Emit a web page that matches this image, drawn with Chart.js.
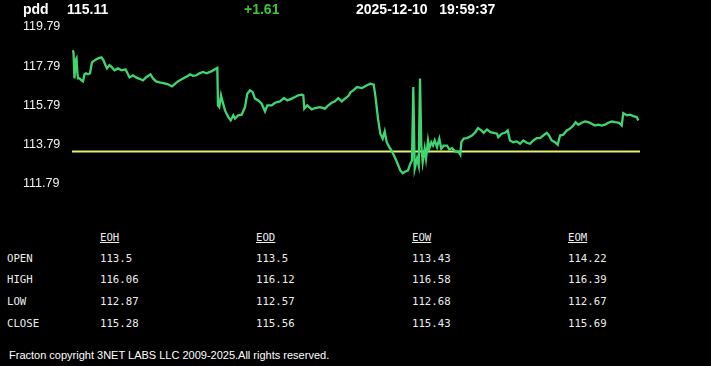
<!DOCTYPE html>
<html>
<head>
<meta charset="utf-8">
<script src="https://cdn.jsdelivr.net/npm/chart.js@4.4.1/dist/chart.umd.min.js"></script>
<style>
    html, body { margin: 0; padding: 0; background: #000; width: 711px; height: 366px; overflow: hidden; }
    #wrap { position: relative; width: 711px; height: 366px; }
    #priceChart { position: absolute; left: 0; top: 0; }
    .hdr { position: absolute; top: 0; font: bold 14px "Liberation Sans", Arial, sans-serif; color: #fff; line-height: 18px; white-space: pre; }
    .cell { position: absolute; font: 10.7px "DejaVu Sans Mono", monospace; color: #ececec; line-height: 14px; white-space: pre; }
    .cell.head { text-decoration: underline; }
    #footer { position: absolute; left: 9px; top: 348px; font: 11px "Liberation Sans", Arial, sans-serif; color: #fff; line-height: 14px; white-space: pre; }
</style>
</head>
<body>
<div id="wrap">
    <canvas id="priceChart" width="711" height="200"></canvas>
    <div class="hdr" id="sym" style="left:23px"></div>
    <div class="hdr" id="last" style="left:67px"></div>
    <div class="hdr" id="chg" style="left:244px;color:#3cc43c"></div>
    <div class="hdr" id="stamp" style="left:356px"></div>
    <div id="table"></div>
    <div id="footer">Fracton copyright 3NET LABS LLC 2009-2025.All rights reserved.</div>
</div>
<script>
// Quote header
const symbol = 'pdd';
const lastPrice = '115.11';
const change = '+1.61';
const stampText = '2025-12-10   19:59:37';

// Intraday trace (t = sample index across the session)
const t = [0.5, 1.5, 2.5, 3.5, 4.5, 5.5, 6, 7.5, 9.5, 11, 12.5, 14, 16, 18, 20, 22.5, 26, 29.5, 31.5, 33.5,
    35, 37.5, 40, 42.5, 46, 49.5, 53.5, 55.5, 57.5, 61, 64, 67.5, 71, 74, 78.5, 81, 84, 87.5, 92.5, 96,
    100, 103.5, 106, 111, 116, 118, 121, 124.5, 127.5, 131, 134.5, 138, 141, 145.3, 146, 147.3, 149, 150.7, 153, 156.3,
    158.7, 161.3, 163, 166.3, 169.7, 173, 175.3, 178, 180.7, 183, 186.3, 189.7, 193, 195.3, 199.7, 203, 208, 212, 215.3, 219.7,
    223, 226.3, 229.7, 231.3, 232.3, 235.3, 239.7, 243, 248, 253, 256.3, 259.7, 263, 266.3, 269.7, 273, 276.3, 278.7, 281.3, 285,
    290, 295, 298.3, 301.7, 303.3, 306, 308.3, 310.7, 312.7, 314.7, 317.3, 320, 322.7, 325, 328.3, 330.7, 333.3, 336, 338.3, 340,
    341.3, 342.7, 345, 346.7, 348, 349.3, 350.7, 352.7, 354, 356, 357.3, 359.3, 361, 362.7, 365, 367.3, 369.3, 371.7, 375, 377.3,
    380, 383.3, 386.7, 388.3, 389.3, 391.7, 395, 400, 403.3, 406, 409.3, 411.7, 415, 418.3, 421.7, 425, 426.3, 429.7, 433, 435.7,
    438, 441.3, 444.7, 448, 451.3, 454.7, 458, 461.3, 464.7, 468, 471.3, 474.7, 477, 479.7, 483, 485.7, 488, 491.3, 494.7, 498,
    501.3, 503.7, 506.3, 509.7, 513, 516.3, 519.7, 523, 526.3, 529.7, 533, 536.3, 539.7, 543, 547, 549.7, 551.3, 554.7, 558, 561.3,
    564.7, 566.3];
const price = [118.60, 118.50, 117.17, 118.09, 118.19, 117.38, 117.17, 117.17, 117.07, 117.02, 117.38, 117.43, 117.38, 117.43, 117.99, 118.09, 118.19, 118.24, 118.09, 117.84,
    117.68, 117.84, 117.73, 117.58, 117.68, 117.58, 117.63, 117.43, 117.22, 117.33, 117.22, 117.15, 117.07, 117.22, 117.38, 117.17, 117.02, 116.97, 116.92, 116.87,
    116.76, 116.92, 117.02, 117.17, 117.30, 117.38, 117.30, 117.33, 117.43, 117.50, 117.43, 117.50, 117.58, 117.70, 115.80, 115.71, 116.31, 115.96, 115.54, 115.20,
    115.03, 115.29, 115.12, 115.29, 115.32, 115.71, 116.39, 116.56, 116.47, 116.14, 116.05, 115.88, 115.49, 115.80, 115.80, 115.93, 116.00, 116.17, 116.05, 116.14,
    116.22, 116.31, 116.34, 116.31, 115.63, 115.80, 115.59, 115.66, 115.71, 115.63, 115.80, 115.93, 116.00, 116.17, 116.00, 116.14, 116.27, 116.47, 116.56, 116.73,
    116.68, 116.82, 116.90, 116.85, 116.31, 115.12, 114.35, 114.10, 114.47, 113.92, 113.67, 113.45, 113.16, 112.90, 112.48, 112.34, 112.43, 112.48, 112.82, 112.99,
    116.73, 112.57, 113.08, 112.73, 117.16, 113.75, 112.90, 113.59, 113.08, 114.01, 113.59, 113.92, 113.75, 114.01, 113.67, 114.10, 113.59, 113.75, 113.75, 113.55,
    113.62, 113.45, 113.41, 113.28, 113.92, 114.10, 114.13, 114.26, 114.43, 114.64, 114.52, 114.40, 114.57, 114.43, 114.40, 114.35, 114.18, 114.35, 114.40, 114.52,
    114.01, 113.92, 113.96, 113.84, 114.01, 113.89, 113.84, 114.01, 114.13, 114.13, 114.26, 114.40, 114.26, 114.01, 113.92, 113.79, 114.26, 114.30, 114.52, 114.61,
    114.77, 114.94, 114.81, 114.91, 114.98, 114.94, 114.86, 114.77, 114.81, 114.77, 114.81, 114.91, 114.98, 114.94, 114.91, 114.77, 115.40, 115.29, 115.32, 115.25,
    115.20, 115.03];

// Previous close reference line
const refT = [0, 568];
const refPrice = [113.45, 113.45];

// Y axis tick labels
const yTicks = [111.79, 113.79, 115.79, 117.79, 119.79];

// Summary table
const tableCols = ['EOH', 'EOD', 'EOW', 'EOM'];
const rowLabels = ['OPEN', 'HIGH', 'LOW', 'CLOSE'];
const openVals = ['113.5', '113.5', '113.43', '114.22'];
const highVals = ['116.06', '116.12', '116.58', '116.39'];
const lowVals = ['112.87', '112.57', '112.68', '112.67'];
const closeVals = ['115.28', '115.56', '115.43', '115.69'];

document.getElementById('sym').textContent = symbol;
document.getElementById('last').textContent = lastPrice;
document.getElementById('chg').textContent = change;
document.getElementById('stamp').textContent = stampText;

// Build table cells
function renderTable() {
    const table = document.getElementById('table');
    const colX = [100, 256, 412, 568];
    const rowY = [259, 280, 302, 324];
    const rows = [openVals, highVals, lowVals, closeVals];
    let html = '';
    tableCols.forEach((c, i) => {
        html += `<div class="cell head" style="left:${colX[i]}px;top:${238 - 7}px">${c}</div>`;
    });
    rowLabels.forEach((lbl, r) => {
        html += `<div class="cell" style="left:7px;top:${rowY[r] - 7}px">${lbl}</div>`;
        rows[r].forEach((v, i) => {
            html += `<div class="cell" style="left:${colX[i]}px;top:${rowY[r] - 7}px">${v}</div>`;
        });
    });
    table.innerHTML = html;
}

function renderPriceChart() {
    const ctx = document.getElementById('priceChart');
    window.priceChart = new Chart(ctx, {
        type: 'line',
        data: {
            datasets: [
                {
                    label: 'pdd',
                    data: t.map((x, i) => ({ x: x, y: price[i] })),
                    borderColor: '#3fd672',
                    borderWidth: 2.3,
                    pointRadius: 0,
                    tension: 0
                },
                {
                    label: 'prev close',
                    data: refT.map((x, i) => ({ x: x, y: refPrice[i] })),
                    borderColor: '#e2f06c',
                    borderWidth: 2,
                    pointRadius: 0
                }
            ]
        },
        options: {
            responsive: false,
            animation: false,
            devicePixelRatio: 1,
            layout: {
                padding: { left: 23, right: 71, top: 27, bottom: 16 }
            },
            scales: {
                x: {
                    type: 'linear',
                    min: 0,
                    max: 568,
                    display: false
                },
                y: {
                    min: 111.79,
                    max: 119.79,
                    afterBuildTicks: (scale) => {
                        scale.ticks = yTicks.map(v => ({ value: v }));
                    },
                    afterFit: (scale) => {
                        scale.width = 49;
                    },
                    ticks: {
                        color: '#f2f2f2',
                        crossAlign: 'far',
                        padding: 0,
                        font: { family: '"Liberation Sans", Arial, sans-serif', size: 12.5 },
                        callback: (v) => Number(v).toFixed(2)
                    },
                    grid: { display: false },
                    border: { display: false }
                }
            },
            plugins: {
                legend: { display: false },
                tooltip: { enabled: false }
            }
        }
    });
}

renderTable();
renderPriceChart();
</script>
</body>
</html>
